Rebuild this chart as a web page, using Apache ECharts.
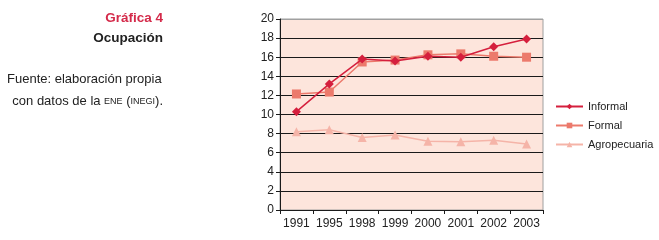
<!DOCTYPE html>
<html>
<head>
<meta charset="utf-8">
<script src="https://cdn.jsdelivr.net/npm/echarts@6/dist/echarts.min.js"></script>
<style>
  html, body { margin: 0; padding: 0; background: #fff; }
  #chart { width: 659px; height: 240px; }
</style>
</head>
<body>
<div id="chart"></div>
<script>
// 数据
var years = ['1991', '1995', '1998', '1999', '2000', '2001', '2002', '2003'];
var informal = [10.3, 13.2, 15.8, 15.6, 16.1, 16.0, 17.1, 17.9];
var formal = [12.15, 12.35, 15.5, 15.7, 16.25, 16.35, 16.1, 16.0];
var agropecuaria = [8.2, 8.4, 7.6, 7.85, 7.2, 7.15, 7.3, 6.9];

var chart = echarts.init(document.getElementById('chart'));
var font = 'Liberation Sans, Arial, sans-serif';

// 网格线：最上面一条是灰色
var splitColors = [];
for (var i = 0; i < 10; i++) splitColors.push('#1a1a1a');
splitColors.push('#a0a0a0');

var option = {
    animation: false,
    textStyle: { fontFamily: font },
    graphic: [
        { type: 'text', right: 496, top: 11, style: { text: 'Gráfica 4', font: 'bold 13.5px ' + font, fill: '#d42a4a' } },
        { type: 'text', right: 496, top: 31, style: { text: 'Ocupación', font: 'bold 13.5px ' + font, fill: '#222' } },
        { type: 'text', left: 7, top: 73, style: { text: 'Fuente: elaboración propia', font: '13px ' + font, fill: '#222' } },
        {
            type: 'text', right: 496, top: 95,
            style: {
                text: 'con datos de la {s|ENE} ({s|INEGI}).',
                font: '13px ' + font,
                fill: '#222',
                rich: { s: { fontSize: 9, fontFamily: font, fill: '#222' } }
            }
        }
    ],
    legend: {
        orient: 'vertical',
        left: 553,
        top: 96,
        itemWidth: 27,
        itemHeight: 7,
        itemGap: 8,
        padding: [5, 2, 5, 2],
        textStyle: { fontSize: 11, color: '#222', fontFamily: font },
        data: ['Informal', 'Formal', 'Agropecuaria']
    },
    grid: {
        left: 280,
        right: 116,
        top: 19,
        bottom: 30,
        show: true,
        backgroundColor: '#fde5dc',
        borderColor: '#a0a0a0',
        borderWidth: 1
    },
    xAxis: {
        type: 'category',
        data: years,
        boundaryGap: true,
        axisLine: { lineStyle: { color: '#1a1a1a', width: 1 } },
        axisTick: { show: true, length: 4, interval: 0, lineStyle: { color: '#1a1a1a' } },
        axisLabel: { color: '#222', fontSize: 12, margin: 8, interval: 0 }
    },
    yAxis: {
        type: 'value',
        min: 0,
        max: 20,
        interval: 2,
        axisLine: { show: true, lineStyle: { color: '#1a1a1a', width: 1 } },
        axisTick: { show: true, length: 4, inside: false, lineStyle: { color: '#1a1a1a' } },
        axisLabel: { color: '#222', fontSize: 12, margin: 6 },
        splitLine: { show: true, lineStyle: { color: splitColors, width: 1 } }
    },
    series: [
        {
            name: 'Agropecuaria',
            type: 'line',
            data: agropecuaria,
            symbol: 'triangle',
            symbolSize: 9,
            itemStyle: { color: '#f5b4a8' },
            lineStyle: { color: '#f5b4a8', width: 1.5 },
            z: 2
        },
        {
            name: 'Formal',
            type: 'line',
            data: formal,
            symbol: 'rect',
            symbolSize: 9,
            itemStyle: { color: '#ec7a6c' },
            lineStyle: { color: '#ec7a6c', width: 1.5 },
            z: 3
        },
        {
            name: 'Informal',
            type: 'line',
            data: informal,
            symbol: 'diamond',
            symbolSize: 9,
            itemStyle: { color: '#d51f3d' },
            lineStyle: { color: '#d51f3d', width: 1.5 },
            z: 4
        }
    ]
};

chart.setOption(option);

window.addEventListener('resize', function () {
    chart.resize();
});
</script>
</body>
</html>
